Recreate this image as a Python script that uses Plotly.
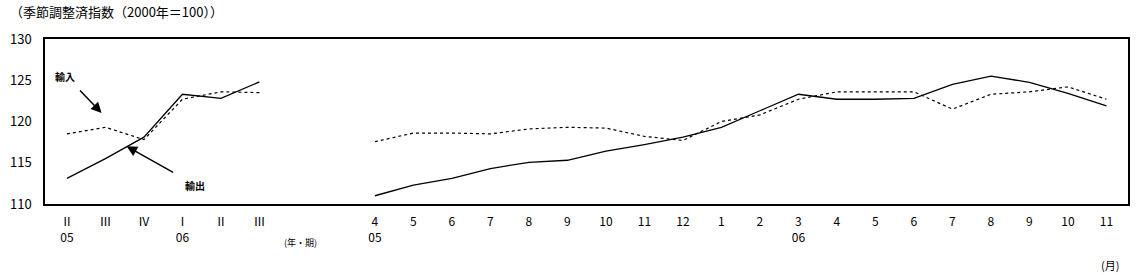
import plotly.graph_objects as go

# --- data ---
quarter_labels = ["Ⅱ", "Ⅲ", "Ⅳ", "Ⅰ", "Ⅱ", "Ⅲ"]
quarter_years = ["05", "", "", "06", "", ""]
export_q = [113.1, 115.5, 118.1, 123.3, 122.8, 124.8]
import_q = [118.5, 119.3, 117.8, 122.7, 123.6, 123.5]

month_labels = ["4", "5", "6", "7", "8", "9", "10", "11", "12", "1",
                "2", "3", "4", "5", "6", "7", "8", "9", "10", "11"]
month_years = ["05", "", "", "", "", "", "", "", "", "",
               "", "06", "", "", "", "", "", "", "", ""]
export_m = [111.0, 112.3, 113.1, 114.3, 115.05, 115.3, 116.4, 117.2, 118.1, 119.3,
            121.3, 123.3, 122.7, 122.7, 122.8, 124.5, 125.5, 124.75, 123.4, 121.9]
import_m = [117.55, 118.6, 118.6, 118.5, 119.1, 119.3, 119.2, 118.2, 117.7, 120.0,
            120.8, 122.7, 123.6, 123.6, 123.6, 121.5, 123.3, 123.6, 124.2, 122.7]

title_text = "（季節調整済指数（2000年＝100））"
FONT = "Noto Sans CJK JP"

# category slots: quarters first, then a gap of two slots, then months
xq = list(range(len(quarter_labels)))
start_m = len(quarter_labels) + 2
xm = list(range(start_m, start_m + len(month_labels)))

tickvals = xq + xm
ticktext = [f"{a}<br>{b}" if b else f"{a}<br> " for a, b in zip(quarter_labels + month_labels,
                                                                  quarter_years + month_years)]

solid = dict(color="black", width=1.3)
dashed = dict(color="black", width=1.2, dash="3px,3px")

fig = go.Figure()
fig.add_trace(go.Scatter(x=xq, y=export_q, mode="lines", line=solid, showlegend=False))
fig.add_trace(go.Scatter(x=xq, y=import_q, mode="lines", line=dashed, showlegend=False))
fig.add_trace(go.Scatter(x=xm, y=export_m, mode="lines", line=solid, showlegend=False))
fig.add_trace(go.Scatter(x=xm, y=import_m, mode="lines", line=dashed, showlegend=False))

fig.update_layout(
    width=1140, height=275,
    margin=dict(l=40, r=10, t=39, b=71),
    paper_bgcolor="white", plot_bgcolor="white",
    font=dict(family=FONT, color="black", size=12),
    xaxis=dict(range=[-0.57, 27.56], tickvals=tickvals, ticktext=ticktext,
               showgrid=False, zeroline=False, showline=True, linecolor="black",
               linewidth=1.5, mirror=True, ticks="", tickfont=dict(size=12),
               ticklabelstandoff=6),
    yaxis=dict(range=[110, 130], tickvals=[110, 115, 120, 125, 130],
               showgrid=False, zeroline=False, showline=True, linecolor="black",
               linewidth=1.5, mirror=True, ticks="", tickfont=dict(size=13),
               ticklabelstandoff=9),
)

ann = [
    dict(x=0.9, y=121.03, ax=-23, ay=-24, text="", showarrow=True, arrowhead=2,
         arrowsize=1.4, arrowwidth=1.5, arrowcolor="black"),
    dict(x=1.55, y=117.0, ax=48, ay=27, text="", showarrow=True, arrowhead=2,
         arrowsize=1.4, arrowwidth=1.5, arrowcolor="black"),
    dict(x=-0.05, y=125.4, text="<b>輸入</b>", showarrow=False, font=dict(size=10)),
    dict(x=3.33, y=112.2, text="<b>輸出</b>", showarrow=False, font=dict(size=10)),
    dict(xref="paper", yref="paper", x=-0.034, y=1.164, xanchor="left", yanchor="middle",
         text=title_text, showarrow=False, font=dict(size=13)),
    dict(xref="paper", yref="paper", x=0.2358, y=-0.236, xanchor="center", yanchor="middle",
         text="(年・期)", showarrow=False, font=dict(size=9)),
    dict(xref="paper", yref="paper", x=0.9835, y=-0.37, xanchor="center", yanchor="middle",
         text="(月)", showarrow=False, font=dict(size=11)),
]
fig.update_layout(annotations=ann)

fig.write_html("out.html")
